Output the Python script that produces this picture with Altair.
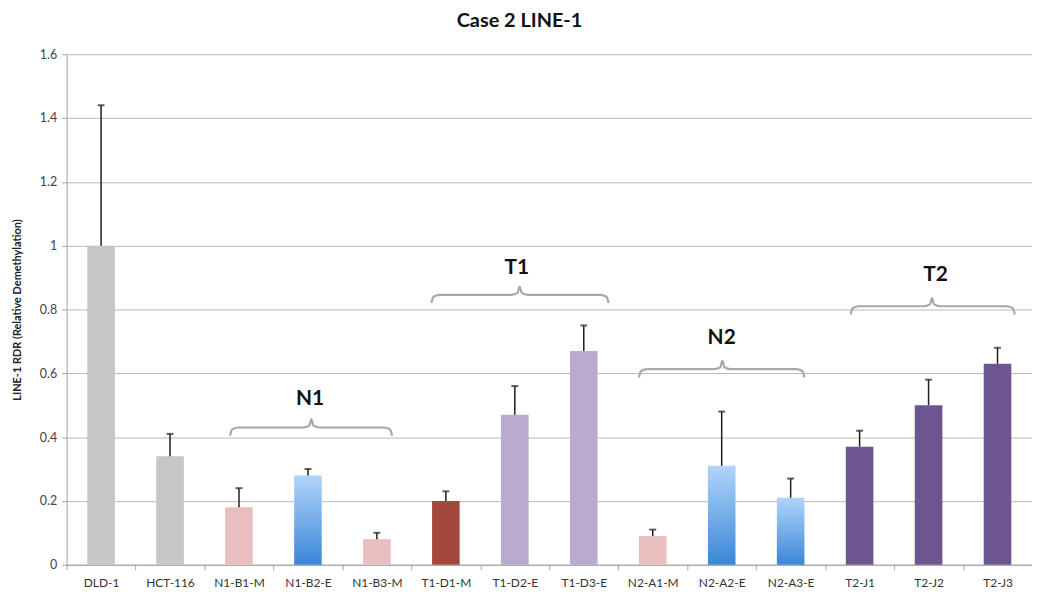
import altair as alt
import pandas as pd

# ---- data ----
categories = ["DLD-1", "HCT-116", "N1-B1-M", "N1-B2-E", "N1-B3-M", "T1-D1-M", "T1-D2-E",
              "T1-D3-E", "N2-A1-M", "N2-A2-E", "N2-A3-E", "T2-J1", "T2-J2", "T2-J3"]
values = [1.00, 0.34, 0.18, 0.28, 0.08, 0.20, 0.47, 0.67, 0.09, 0.31, 0.21, 0.37, 0.50, 0.63]
err_top = [1.44, 0.41, 0.24, 0.30, 0.10, 0.23, 0.56, 0.75, 0.11, 0.48, 0.27, 0.42, 0.58, 0.68]
kinds = ["control", "control", "normal_M", "normal_E", "normal_M", "T1_M", "T1_E",
         "T1_E", "normal_M", "normal_E", "normal_E", "T2", "T2", "T2"]

kind_names = ["control", "normal_M", "T1_M", "T1_E", "T2"]
kind_colors = ["#c6c6c6", "#e9bebe", "#a4483e", "#b9abd0", "#6d5590"]

# group braces (in category units along the x axis) and their labels
brace_labels = ["N1", "T1", "N2", "T2"]
brace_start = [2.37, 5.29, 8.30, 11.37]
brace_mid = [3.55, 6.57, 9.51, 12.55]
brace_end = [4.72, 7.86, 10.70, 13.75]
brace_level = [0.430, 0.846, 0.613, 0.810]
label_x = [3.53, 6.53, 9.50, 12.60]
label_level = [0.519, 0.930, 0.712, 0.908]

# ---- tables ----
df = pd.DataFrame({"cat": categories, "value": values, "err": err_top, "kind": kinds})

brace_rows = []
for lab, x0, xm, x1, L in zip(brace_labels, brace_start, brace_mid, brace_end, brace_level):
    e = 0.026
    pts = [(x0, L - e), (x0 + 0.03, L - 0.006), (x0 + 0.12, L), (xm - 0.12, L),
           (xm - 0.03, L + 0.006), (xm, L + e), (xm + 0.03, L + 0.006), (xm + 0.12, L),
           (x1 - 0.12, L), (x1 - 0.03, L - 0.006), (x1, L - e)]
    for k, (bx, by) in enumerate(pts):
        brace_rows.append({"g": lab, "k": k, "bx": bx, "by": by})
brace_df = pd.DataFrame(brace_rows)
label_df = pd.DataFrame({"lab": brace_labels, "lx": label_x, "ly": label_level})

W, H = 972, 514
FONT = "Lato"
step = W / len(categories)

yscale = alt.Scale(domain=[0, 1.6], nice=False, zero=True)
yaxis = alt.Axis(
    title="LINE-1 RDR (Relative Demethylation)",
    values=[0, 0.2, 0.4, 0.6, 0.8, 1.0, 1.2, 1.4, 1.6],
    format="~g",
    titleFont=FONT, titleFontSize=11, titleFontWeight="bold", titleColor="#222",
    titlePadding=17,
    labelFont=FONT, labelFontSize=12.5, labelColor="#444", labelPadding=5,
    grid=True, gridColor="#b9b9b9", gridWidth=1,
    domainColor="#a0a0a0", tickColor="#a0a0a0", tickSize=5,
)


def Y(field):
    return alt.Y(field, type="quantitative", scale=yscale, axis=yaxis)


xband = alt.X(
    "cat:N", sort=categories,
    scale=alt.Scale(domain=categories, paddingInner=0.6, paddingOuter=0.3),
    axis=alt.Axis(title=None, labelAngle=0, labelFont=FONT, labelFontSize=12,
                  labelColor="#333", labelPadding=8, tickOffset=-step / 2,
                  labelOffset=step / 2, domainColor="#a0a0a0", tickColor="#a0a0a0",
                  tickSize=5, grid=False),
)

base = alt.Chart(df)

solid = base.transform_filter(alt.datum.kind != "normal_E").mark_bar().encode(
    x=xband, y=Y("value"),
    color=alt.Color("kind:N", scale=alt.Scale(domain=kind_names, range=kind_colors), legend=None),
)

blue = base.transform_filter(alt.datum.kind == "normal_E").mark_bar(
    color=alt.Gradient(
        gradient="linear",
        stops=[alt.GradientStop(color="#b0d5fb", offset=0),
               alt.GradientStop(color="#3a86d8", offset=1)],
        x1=0, x2=0, y1=0, y2=1,
    )
).encode(x=xband, y=Y("value"))

rules = base.mark_rule(color="#1e1e1e", strokeWidth=1.5).encode(
    x=xband, y=Y("value"), y2="err:Q"
)
caps = base.mark_tick(color="#1e1e1e", thickness=2, size=7).encode(x=xband, y=Y("err"))

band_layer = alt.layer(solid, blue, rules, caps)

xq = alt.Scale(domain=[0, len(categories)], nice=False, zero=False)
braces = alt.Chart(brace_df).mark_line(
    interpolate="monotone", color="#a8a8a8", strokeWidth=2.2
).encode(
    x=alt.X("bx:Q", scale=xq, axis=None),
    y=Y("by"),
    detail="g:N",
    order="k:Q",
)
labels = alt.Chart(label_df).mark_text(
    font=FONT, fontSize=21, fontWeight="bold", color="#111"
).encode(
    x=alt.X("lx:Q", scale=xq, axis=None),
    y=Y("ly"),
    text="lab:N",
)
quant_layer = alt.layer(braces, labels)

chart = alt.layer(band_layer, quant_layer).resolve_scale(x="independent").properties(
    width=W, height=H,
    autosize="none",
    padding={"left": 59, "top": 44.5, "right": 0, "bottom": 36},
    title=alt.TitleParams("Case 2 LINE-1", font=FONT, fontSize=20, fontWeight="bold",
                          color="#111", anchor="middle", dx=-30, offset=17),
).configure_view(stroke=None)

chart.save("out.html", embed_options={"renderer": "svg", "actions": False})
